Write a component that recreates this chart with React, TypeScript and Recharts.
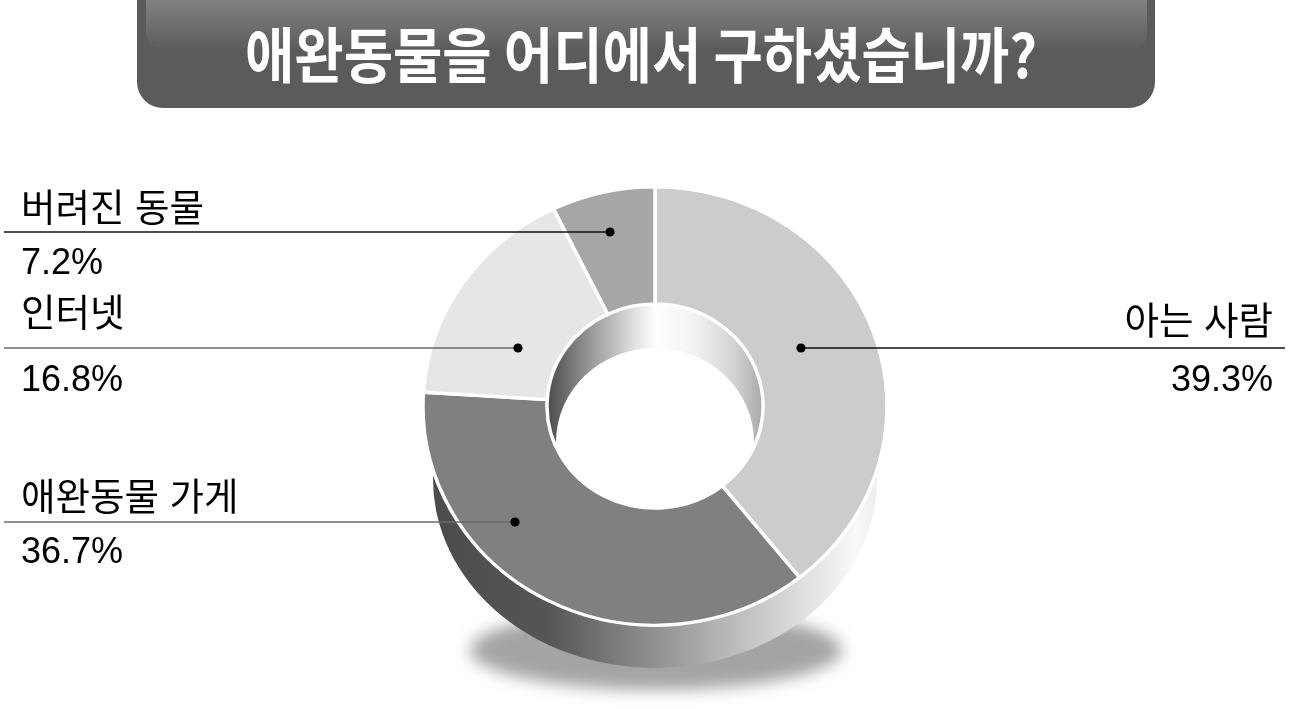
import React from 'react';
import { PieChart, Pie, Cell } from 'recharts';

// ---- data ----
const TITLE = '애완동물을 어디에서 구하셨습니까?';
const CATEGORIES = ['아는 사람', '애완동물 가게', '인터넷', '버려진 동물'];
const VALUES = [39.3, 36.7, 16.8, 7.2];
const SLICE_COLORS = ['#cccccc', '#808080', '#e6e6e6', '#a6a6a6'];

// ---- layout (label rows, not data) ----
const LABEL_LAYOUT = [
  { side: 'right', lineY: 348, dotX: 801, nameY: 334, pctY: 391, lineColor: '#111' },
  { side: 'left', lineY: 522, dotX: 515, nameY: 510, pctY: 563, lineColor: '#6a6a6a' },
  { side: 'left', lineY: 348, dotX: 518, nameY: 326, pctY: 391, lineColor: '#6a6a6a' },
  { side: 'left', lineY: 232, dotX: 610, nameY: 221, pctY: 274, lineColor: '#111' },
];

const W = 1292;
const H = 709;
const CX = 655;
const CY = 406;
const OUTER = 232;
const INNER = 108;
const S = 0.945; // vertical squash of the top face
const toSvgY = (y: number) => CY + (y - CY) / S;
const FONT = "'Liberation Sans', 'Noto Sans CJK KR', sans-serif";

const data = CATEGORIES.map((name, i) => ({ name, value: VALUES[i] }));

const renderLabel = (props: any) => {
  const { index } = props;
  const L = LABEL_LAYOUT[index];
  const ly = toSvgY(L.lineY);
  const left = L.side === 'left';
  const x1 = left ? 4 : L.dotX;
  const x2 = left ? L.dotX : 1285;
  const tx = left ? 21 : 1273;
  const anchor = left ? 'start' : 'end';
  const pct = `${VALUES[index].toFixed(1)}%`;
  return (
    <g key={`lbl-${index}`}>
      <line x1={x1} y1={ly} x2={x2} y2={ly} stroke={L.lineColor} strokeWidth={1.6} vectorEffect="non-scaling-stroke" />
      <ellipse cx={L.dotX} cy={ly} rx={4.6} ry={4.6 / S} fill="#000" />
      <text
        transform={`translate(${tx},${toSvgY(L.nameY)}) scale(1,${1 / S})`}
        textAnchor={anchor}
        fontFamily={FONT}
        fontSize={37.5}
        fill="#000"
      >
        {CATEGORIES[index]}
      </text>
      <text
        transform={`translate(${tx},${toSvgY(L.pctY)}) scale(1,${1 / S})`}
        textAnchor={anchor}
        fontFamily={FONT}
        fontSize={36}
        fill="#000"
      >
        {pct}
      </text>
    </g>
  );
};

export default function App() {
  return (
    <div style={{ position: 'absolute', left: 0, top: 0, width: W, height: H, overflow: 'hidden', background: '#fff' }}>
      {/* background decorations */}
      <svg width={W} height={H} style={{ position: 'absolute', left: 0, top: 0 }}>
        <defs>
          <linearGradient id="hl" x1="0" y1="0" x2="0" y2="1">
            <stop offset="0" stopColor="#8e8e8e" />
            <stop offset="0.55" stopColor="#747474" />
            <stop offset="1" stopColor="#5e5e5e" />
          </linearGradient>
          <linearGradient id="side" gradientUnits="userSpaceOnUse" x1="433" y1="0" x2="877" y2="0">
            <stop offset="0" stopColor="#4c4c4c" />
            <stop offset="0.26" stopColor="#555555" />
            <stop offset="0.45" stopColor="#858585" />
            <stop offset="0.65" stopColor="#b5b5b5" />
            <stop offset="0.82" stopColor="#dcdcdc" />
            <stop offset="0.95" stopColor="#f8f8f8" />
            <stop offset="1" stopColor="#eeeeee" />
          </linearGradient>
          <linearGradient id="wall" gradientUnits="userSpaceOnUse" x1="545" y1="0" x2="766" y2="0">
            <stop offset="0" stopColor="#474747" />
            <stop offset="0.2" stopColor="#969696" />
            <stop offset="0.38" stopColor="#d8d8d8" />
            <stop offset="0.5" stopColor="#ffffff" />
            <stop offset="0.68" stopColor="#f2f2f2" />
            <stop offset="0.86" stopColor="#d2d2d2" />
            <stop offset="1" stopColor="#a4a4a4" />
          </linearGradient>
          <filter id="blur" x="-30%" y="-60%" width="160%" height="220%">
            <feGaussianBlur stdDeviation="8" />
          </filter>
        </defs>
        {/* title banner */}
        <rect x={137} y={-30} width={1018} height={138} rx={26} ry={26} fill="#5b5b5b" />
        <rect x={146} y={-20} width={1001} height={68} rx={14} ry={14} fill="url(#hl)" />
        <text
          x={245}
          y={78}
          fontFamily="'Noto Sans CJK KR', sans-serif"
          fontWeight={700}
          fontSize={60}
          fill="#ffffff"
          textLength={792}
          lengthAdjust="spacingAndGlyphs"
        >
          {TITLE}
        </text>
        {/* shadow */}
        <ellipse cx={656} cy={650} rx={186} ry={40} fill="#a4a4a4" filter="url(#blur)" />
        {/* side of the donut */}
        <ellipse cx={655} cy={479} rx={222} ry={189} fill="url(#side)" />
        {/* inner wall of the hole */}
        <ellipse cx={CX} cy={CY} rx={INNER + 2} ry={(INNER + 2) * S} fill="url(#wall)" />
        <ellipse cx={CX} cy={442} rx={99} ry={94} fill="#ffffff" />
      </svg>
      {/* donut top face */}
      <div
        style={{
          position: 'absolute',
          left: 0,
          top: 0,
          width: W,
          height: H,
          transform: `scaleY(${S})`,
          transformOrigin: `0px ${CY}px`,
        }}
      >
        <PieChart width={W} height={H} margin={{ top: 0, right: 0, bottom: 0, left: 0 }}>
          <Pie
            data={data}
            dataKey="value"
            nameKey="name"
            cx={CX}
            cy={CY}
            innerRadius={INNER}
            outerRadius={OUTER}
            startAngle={90}
            endAngle={-270}
            stroke="#ffffff"
            strokeWidth={3.5}
            isAnimationActive={false}
            label={renderLabel}
            labelLine={false}
          >
            {data.map((d, i) => (
              <Cell key={d.name} fill={SLICE_COLORS[i]} />
            ))}
          </Pie>
        </PieChart>
      </div>
    </div>
  );
}
